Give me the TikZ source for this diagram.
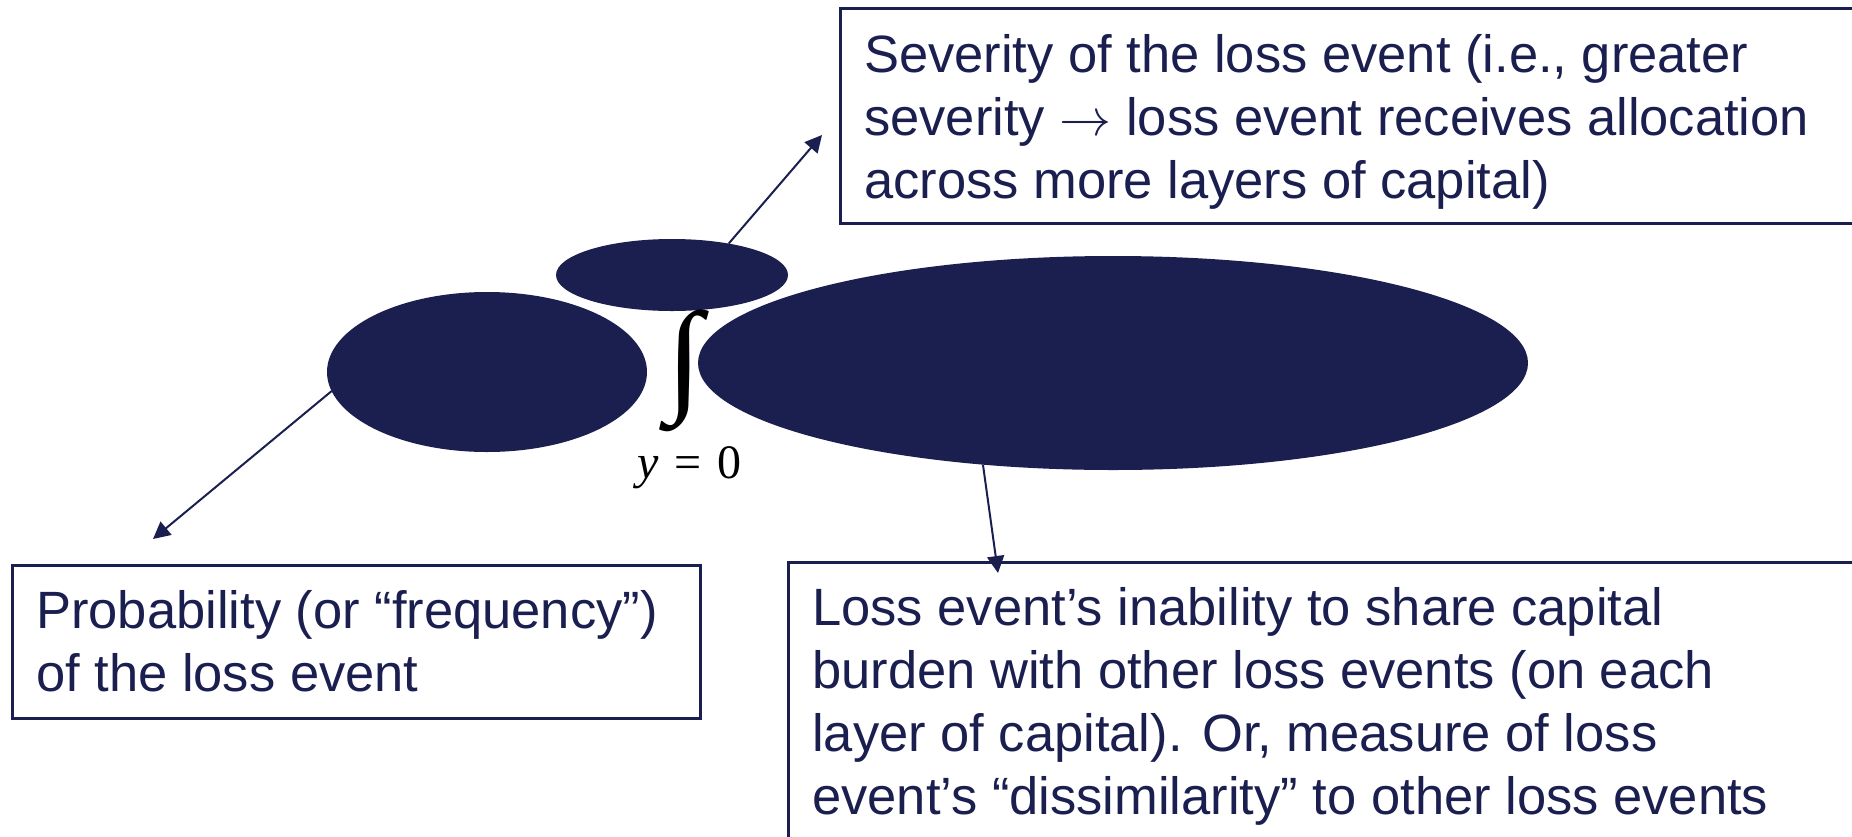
\documentclass[tikz,border=0pt]{standalone}
\usepackage{fontspec}
\setmainfont{Liberation Sans}
\newfontfamily\serifmath{Liberation Serif}
\usetikzlibrary{shapes.geometric,arrows.meta}
\definecolor{navy}{RGB}{26,31,80}
\newcommand{\longarr}{\resizebox{52pt}{!}{\fontsize{10}{12}\selectfont$\rightarrow$}}
\tikzset{
  blob/.style={ellipse, fill=navy, inner sep=0pt, outer sep=0pt},
  box/.style={draw=navy, line width=2.5pt, anchor=north west, inner sep=0pt},
  txt/.style={anchor=north west, inner sep=0pt, align=left, text=navy,
    font=\fontsize{52.5}{63}\selectfont},
  conn/.style={draw=navy, line width=2pt, -{Triangle[length=17pt,width=17pt]}}
}
\begin{document}
\begin{tikzpicture}[x=1pt,y=1pt]
\useasboundingbox (0,0) rectangle (1852,-836);
\clip (0,0) rectangle (1852,-836);
% blobs
\node[blob, minimum width=320pt, minimum height=160pt] (freq) at (487,-372) {};
\node[blob, minimum width=232pt, minimum height=72pt] (sev) at (672,-275) {};
\node[blob, minimum width=830pt, minimum height=214pt] (dis) at (1113,-363) {};
% integral
\node[inner sep=0pt, anchor=north] (int) at (684,-310) {\resizebox*{36pt}{122pt}{\serifmath ∫}};
\node[inner sep=0pt, anchor=base west] (lim) at (637,-478) {\fontsize{48}{56}\serifmath\textit{y}\,\,=\,\,0};
% boxes
\node[box, minimum width=1100pt, minimum height=215pt] (b1) at (839,-7) {};
\node[box, minimum width=688pt, minimum height=153pt] (b2) at (11,-564) {};
\node[box, minimum width=1100pt, minimum height=340pt] (b3) at (787,-561) {};
% texts
\node[txt] (t1) at (864,-27.9) {\strut Severity of the loss event (i.e., greater\\\strut severity \longarr{} loss event receives allocation\\\strut across more layers of capital)};
\node[txt] (t2) at (36,-583.9) {\strut Probability (or “frequency”)\\\strut of the loss event};
\node[txt] (t3) at (812,-580.9) {\strut Loss event’s inability to share capital\\\strut burden with other loss events (on each\\\strut layer of capital). Or, measure of loss\\\strut event’s “dissimilarity” to other loss events};
% connector ends
\coordinate (e1) at (822,-135);
\coordinate (e2) at (153,-539);
\coordinate (e3) at (998,-573);
\draw[conn] (sev.29) -- (e1);
\draw[conn] (freq.187.7) -- (e2);
\draw[conn] (dis.218) -- (e3);
\end{tikzpicture}
\end{document}
